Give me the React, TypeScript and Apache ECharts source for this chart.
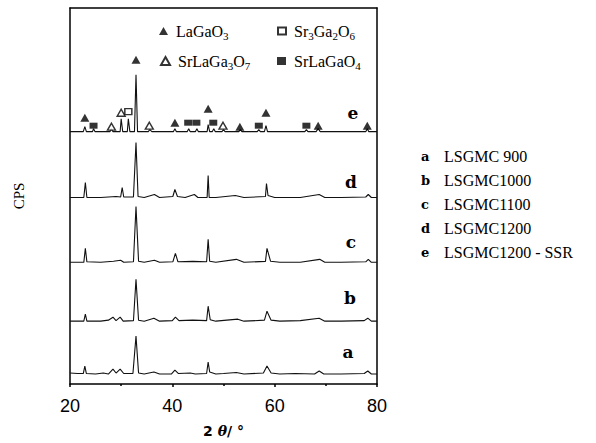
import React, { useEffect, useRef } from "react";
import * as echarts from "echarts";

// 2θ (deg) vs relative intensity for each sample
const traceA = [[20,1],[21.5,0.5],[22.6,0.5],[22.9,8],[23.2,0.5],[25,0],[26.5,1],[27.5,0],[28.4,5],[29.0,1],[29.8,5],[30.5,0.5],[32.3,0.5],[32.9,38],[33.4,1],[34.5,0],[36.4,2],[37.5,0],[39.8,0],[40.5,4],[41.2,0.5],[43.5,1],[44.5,0],[46.7,0.5],[47.0,12],[47.3,2],[48.5,0],[50,0.5],[52.5,1.5],[54,0],[57.8,1],[58.5,8],[59.3,1],[61,0],[64,0.5],[67.8,0],[68.7,3],[69.6,0],[73,0],[77.5,0.5],[78.2,3],[78.9,0],[80,0]];
const traceB = [[20,0],[22.7,0],[23.0,7],[23.3,0],[26,0],[27.5,1],[28.4,4],[29.0,0.5],[29.8,4],[30.4,0],[32.4,0.5],[32.9,42],[33.4,1],[34.5,0],[36.4,3],[37.5,0],[40,0.5],[40.6,4],[41.3,0.5],[44,1],[46.7,0.5],[47.0,15],[47.4,1.5],[48.5,0],[52.8,2],[54,0],[58.0,1],[58.5,10],[59.3,1],[61,0],[65,0.5],[68.7,3],[69.8,0],[73,0],[77.5,0.5],[78.2,3],[78.9,0],[80,0]];
const traceC = [[20,0],[22.7,0],[23.0,14],[23.3,0.5],[26,0],[28.5,1],[29.9,2],[30.5,0],[32.4,0.5],[32.9,56],[33.4,1],[34.5,0],[36.5,2],[37.5,0],[40.1,0.5],[40.6,9],[41.1,0.5],[44,1],[46.7,0.5],[47.0,23],[47.3,1],[48.5,0],[52.5,3],[54,0],[58.2,1],[58.5,14],[59.2,1],[61,0],[65,0],[68.8,3],[69.8,0],[73,0],[77.8,0.5],[78.3,3],[78.9,0],[80,0]];
const traceD = [[20,0],[22.7,0],[23.0,15],[23.3,0],[26,0],[29,1],[29.9,0.5],[30.2,10],[30.5,0.5],[32.4,0.5],[32.9,55],[33.3,1],[34.5,0],[36.5,3],[37.5,0],[40.1,1],[40.5,8],[41,1],[42.5,0],[44.3,3],[45,0],[46.8,0],[47.0,22],[47.2,0],[48.5,0],[52.3,2],[54,0],[58.2,1],[58.4,14],[58.7,2],[60,0],[65,0],[68.7,3],[69.8,0],[73,0],[77.8,0.5],[78.3,3],[78.9,0],[80,0]];
const traceE = [[20,0],[22.6,0],[22.9,5],[23.2,0],[24.4,0],[24.6,3],[24.9,0],[27.8,0],[28.1,3],[28.4,0],[29.8,0],[30.0,13],[30.3,0],[31.2,0],[31.4,13],[31.7,0],[32.6,0],[32.9,57],[33.2,0],[35.3,0],[35.6,2],[36,0],[40.2,0],[40.5,3],[40.8,0],[42.9,0],[43.2,3],[43.5,0],[44.5,0],[44.8,3],[45.1,0],[46.8,0],[47.0,7],[47.3,0],[47.8,0],[48.1,3],[48.4,0],[49.7,0],[50.0,2],[50.3,0],[53.0,0],[53.3,2],[53.6,0],[56.6,0],[56.9,2],[57.2,0],[58.0,0],[58.3,6],[58.6,0],[65.9,0],[66.2,2],[66.5,0],[68.1,0],[68.5,3],[68.9,0],[77.8,0],[78.1,3],[78.4,0],[80,0]];

const sampleKeys = ["a", "b", "c", "d", "e"];
const sampleNames = ["LSGMC 900", "LSGMC1000", "LSGMC1100", "LSGMC1200", "LSGMC1200 - SSR"];
const traces = [traceA, traceB, traceC, traceD, traceE];
const offsets = [10, 63, 122, 187, 253];

// phase markers (2θ, plot height)
const phaseNames = ["LaGaO3", "Sr3Ga2O6", "SrLaGa3O7", "SrLaGaO4"];
const markLaGaO3 = [[22.9,267],[32.9,325],[40.5,262],[47.0,276],[53.2,258],[58.3,272],[68.5,259],[78.1,259]];
const markSr3Ga2O6 = [[31.4,273]];
const markSrLaGa3O7 = [[28.1,258],[30.0,272],[35.5,259],[49.9,259]];
const markSrLaGaO4 = [[24.6,259],[43.1,262],[44.7,262],[48.0,262],[56.9,259],[66.2,259]];

const xTicks = [20, 40, 60, 80];

const richPhase: Record<string, string> = {
  LaGaO3: "{g|}{m|LaGaO}{s|3}",
  Sr3Ga2O6: "{g|}{m|Sr}{s|3}{m|Ga}{s|2}{m|O}{s|6}",
  SrLaGa3O7: "{g|}{m|SrLaGa}{s|3}{m|O}{s|7}",
  SrLaGaO4: "{g|}{m|SrLaGaO}{s|4}",
};

export default function App() {
  const ref = useRef<HTMLDivElement>(null);
  useEffect(() => {
    if (!ref.current) return;
    const chart = echarts.init(ref.current, null, { renderer: "svg" });
    const lineSeries = traces.map((t, i) => ({
      type: "line",
      name: sampleKeys[i],
      data: t.map((p) => [p[0], p[1] + offsets[i]]),
      showSymbol: false,
      symbol: "none",
      lineStyle: { color: "#111", width: 1.1 },
      silent: true,
      z: 2,
    }));
    const filled = { color: "#000" };
    const open = { color: "#fff", borderColor: "#000", borderWidth: 1.4 };
    const markerSeries = [
      { name: "LaGaO3", type: "scatter", symbol: "triangle", symbolSize: [9, 8], data: markLaGaO3, itemStyle: filled },
      { name: "Sr3Ga2O6", type: "scatter", symbol: "rect", symbolSize: [7, 6], data: markSr3Ga2O6, itemStyle: open },
      { name: "SrLaGa3O7", type: "scatter", symbol: "triangle", symbolSize: [8, 7], data: markSrLaGa3O7, itemStyle: open },
      { name: "SrLaGaO4", type: "scatter", symbol: "rect", symbolSize: [8, 6], data: markSrLaGaO4, itemStyle: filled },
    ].map((s) => ({ ...s, z: 5, silent: true }));

    const legendPos = [
      { left: 159, top: 23, w: 9, h: 8 },
      { left: 277, top: 23, w: 8, h: 7 },
      { left: 160, top: 53, w: 9, h: 8 },
      { left: 277, top: 53, w: 9, h: 8 },
    ];
    const legends = phaseNames.map((n, i) => ({
      data: [n],
      left: legendPos[i].left,
      top: legendPos[i].top,
      padding: 0,
      itemWidth: legendPos[i].w,
      itemHeight: legendPos[i].h,
      itemGap: 0,
      selectedMode: false,
      formatter: (name: string) => richPhase[name],
      textStyle: {
        color: "#000",
        rich: {
          g: { width: 3 },
          m: { fontFamily: "Liberation Serif", fontSize: 16, color: "#000", lineHeight: 20, verticalAlign: "middle" },
          s: { fontFamily: "Liberation Serif", fontSize: 11, color: "#000", lineHeight: 10, verticalAlign: "bottom" },
        },
      },
    }));

    const sampleRows = sampleKeys.map((k, i) => ({
      type: "text",
      left: 421,
      top: 148 + i * 24,
      style: {
        text: `{k|${k}}{t|${sampleNames[i]}}`,
        rich: {
          k: { fontFamily: "DejaVu Serif", fontWeight: "bold", fontSize: 13, fill: "#000", width: 23 },
          t: { fontFamily: "Liberation Serif", fontSize: 16, fill: "#000" },
        },
      },
    }));
    const traceLabelPos = [[348, 352], [350, 298], [351, 242], [351, 182], [353, 113]];
    const traceLabels = sampleKeys.map((k, i) => ({
      type: "text",
      x: traceLabelPos[i][0],
      y: traceLabelPos[i][1],
      style: {
        text: k,
        fontFamily: "DejaVu Serif",
        fontWeight: "bold",
        fontSize: 17,
        fill: "#000",
        align: "center",
        verticalAlign: "middle",
      },
    }));

    chart.setOption({
      animation: false,
      backgroundColor: "#fff",
      grid: { left: 70, right: 219, top: 8, bottom: 58 },
      legend: legends,
      xAxis: [
        {
          type: "value",
          min: 20,
          max: 80,
          interval: 20,
          position: "bottom",
          axisLine: { show: true, onZero: false, lineStyle: { color: "#000", width: 1.5 } },
          axisTick: { show: true, inside: false, length: 3, lineStyle: { color: "#000", width: 1.5 } },
          minorTick: { show: true, splitNumber: 2, length: 2, lineStyle: { color: "#000", width: 1.5 } },
          splitLine: { show: false },
          axisLabel: {
            color: "#000",
            fontFamily: "Liberation Sans",
            fontSize: 18,
            margin: 13,
            formatter: (v: number) => (xTicks.includes(v) ? String(v) : ""),
          },
          name: "{a|2 }{b|θ}{a|/ °}",
          nameLocation: "middle",
          nameGap: 40,
          nameTextStyle: {
            rich: {
              a: { fontFamily: "DejaVu Sans", fontWeight: "bold", fontSize: 14, color: "#000" },
              b: { fontFamily: "DejaVu Serif", fontWeight: "bold", fontStyle: "italic", fontSize: 14, color: "#000" },
            },
          },
        },
        {
          type: "value",
          min: 20,
          max: 80,
          position: "top",
          axisLine: { show: true, onZero: false, lineStyle: { color: "#000", width: 1.5 } },
          axisTick: { show: false },
          axisLabel: { show: false },
          splitLine: { show: false },
        },
      ],
      yAxis: [
        {
          type: "value",
          min: 0,
          max: 377,
          position: "left",
          axisLine: { show: true, onZero: false, lineStyle: { color: "#000", width: 1.5 } },
          axisTick: { show: false },
          axisLabel: { show: false },
          splitLine: { show: false },
          name: "CPS",
          nameLocation: "middle",
          nameGap: 44,
          nameTextStyle: { fontFamily: "Liberation Serif", fontSize: 15, color: "#000" },
        },
        {
          type: "value",
          min: 0,
          max: 377,
          position: "right",
          axisLine: { show: true, onZero: false, lineStyle: { color: "#000", width: 1.5 } },
          axisTick: { show: false },
          axisLabel: { show: false },
          splitLine: { show: false },
        },
      ],
      series: [...lineSeries, ...markerSeries],
      graphic: [...sampleRows, ...traceLabels],
    });
    return () => chart.dispose();
  }, []);
  return <div ref={ref} style={{ width: 596, height: 443, position: "absolute", left: 0, top: 0 }} />;
}
